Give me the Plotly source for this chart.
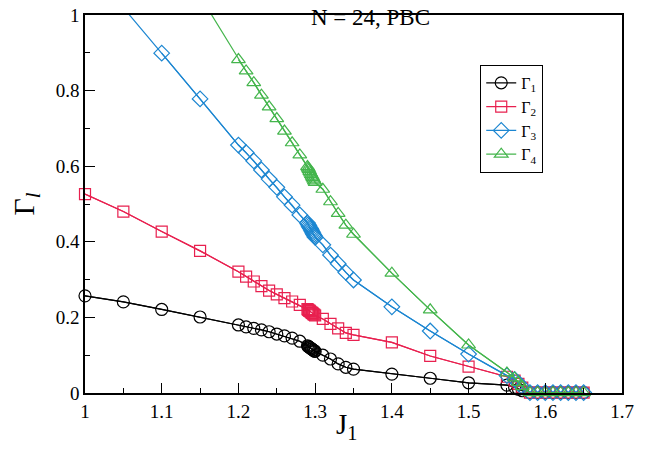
import numpy as np
import plotly.graph_objects as go

J1 = [1.0, 1.05, 1.1, 1.15, 1.2, 1.21, 1.22, 1.23, 1.24, 1.25, 1.26, 1.27, 1.28,
      1.29, 1.291, 1.292, 1.293, 1.294, 1.295, 1.296, 1.297, 1.298, 1.299, 1.30,
      1.31, 1.32, 1.33, 1.34, 1.35, 1.4, 1.45, 1.5, 1.55, 1.56, 1.565, 1.57,
      1.58, 1.59, 1.60, 1.61, 1.62, 1.63, 1.64, 1.65]

G1 = [0.257, 0.241, 0.221, 0.201, 0.180, 0.175, 0.171, 0.167, 0.162, 0.156, 0.151, 0.145, 0.137,
      0.125, 0.123, 0.122, 0.120, 0.119, 0.117, 0.116, 0.114, 0.113, 0.111, 0.110,
      0.100, 0.090, 0.077, 0.068, 0.063, 0.050, 0.039, 0.027, 0.021, 0.015, 0.010, 0.006,
      0.001, 0.001, 0.001, 0.001, 0.001, 0.001, 0.001, 0.001]

G2 = [0.526, 0.480, 0.427, 0.376, 0.321, 0.308, 0.295, 0.283, 0.271, 0.261, 0.251, 0.242, 0.233,
      0.222, 0.220, 0.218, 0.217, 0.215, 0.213, 0.212, 0.210, 0.208, 0.207, 0.205,
      0.196, 0.183, 0.171, 0.159, 0.154, 0.134, 0.098, 0.070, 0.043, 0.033, 0.024, 0.014,
      0.001, 0.001, 0.001, 0.001, 0.001, 0.001, 0.001, 0.001]

G3 = [1.14, 1.02, 0.899, 0.778, 0.656, 0.636, 0.614, 0.590, 0.566, 0.544, 0.519, 0.497, 0.471,
      0.450, 0.446, 0.442, 0.438, 0.435, 0.431, 0.427, 0.423, 0.419, 0.416, 0.412,
      0.392, 0.365, 0.342, 0.319, 0.299, 0.228, 0.164, 0.103, 0.046, 0.036, 0.026, 0.016,
      0.001, 0.001, 0.001, 0.001, 0.001, 0.001, 0.001, 0.001]

G4 = [1.58, 1.40, 1.22, 1.05, 0.882, 0.852, 0.821, 0.788, 0.757, 0.726, 0.693, 0.662, 0.630,
      0.599, 0.595, 0.591, 0.586, 0.582, 0.578, 0.574, 0.570, 0.566, 0.561, 0.557,
      0.539, 0.506, 0.475, 0.444, 0.420, 0.317, 0.220, 0.127, 0.053, 0.040, 0.028, 0.017,
      0.001, 0.001, 0.001, 0.001, 0.001, 0.001, 0.001, 0.001]

names = ["Γ<sub>1</sub>", "Γ<sub>2</sub>", "Γ<sub>3</sub>", "Γ<sub>4</sub>"]
colors = ["#000000", "#e8204f", "#1c86d1", "#44b54c"]
symbols = ["circle-open", "square-open", "diamond-open", "triangle-up-open"]
msizes = [12, 11, 12, 12]

SERIF = "Liberation Serif"

fig = go.Figure()
x = np.array(J1)
for ys, nm, c, s, ms in zip([G1, G2, G3, G4], names, colors, symbols, msizes):
    y = np.array(ys)
    # full line (clipped at the plot area)
    fig.add_trace(go.Scatter(x=x, y=y, mode="lines", line=dict(color=c, width=1.2),
                             showlegend=False, hoverinfo="skip", legendgroup=nm))
    vis = y <= 1.0
    fig.add_trace(go.Scatter(x=x[vis], y=y[vis], mode="lines+markers", name=nm,
                             legendgroup=nm, cliponaxis=False,
                             line=dict(color=c, width=1.2),
                             marker=dict(symbol=s, size=ms, color=c,
                                         line=dict(color=c, width=1.2))))

axis_common = dict(showgrid=False, zeroline=False, showline=True, linecolor="black",
                   linewidth=1.6, mirror=True, ticks="inside", ticklen=10,
                   tickwidth=1.3, tickcolor="black", automargin=False,
                   tickfont=dict(family=SERIF, size=19, color="black"))

fig.update_layout(
    width=649, height=449,
    margin=dict(l=85, r=27, t=15, b=56),
    paper_bgcolor="white", plot_bgcolor="white",
    xaxis=dict(range=[1, 1.7], tick0=1, dtick=0.1,
               minor=dict(ticks="inside", ticklen=5, dtick=0.05, tickcolor="black", tickwidth=1.3),
               **axis_common),
    yaxis=dict(range=[0, 1], tick0=0, dtick=0.2,
               minor=dict(ticks="inside", ticklen=5, dtick=0.1, tickcolor="black", tickwidth=1.3),
               title=dict(text="Γ<sub><i>l</i></sub>", font=dict(family=SERIF, size=30, color="black"),
                          standoff=12),
               **axis_common),
    legend=dict(x=0.736, y=0.868, xanchor="left", yanchor="top",
                bordercolor="black", borderwidth=1, bgcolor="white",
                font=dict(family=SERIF, size=16, color="black"),
                tracegroupgap=0, itemwidth=30),
    annotations=[
        dict(text="N = 24, PBC", x=0.531, y=0.993, xref="paper", yref="paper",
             xanchor="center", yanchor="middle", showarrow=False,
             font=dict(family=SERIF, size=23, color="black")),
        dict(text="J<sub>1</sub>", x=0.487, y=-0.088, xref="paper", yref="paper",
             xanchor="center", yanchor="middle", showarrow=False,
             font=dict(family=SERIF, size=29, color="black")),
    ],
)

fig.write_html("out.html")
